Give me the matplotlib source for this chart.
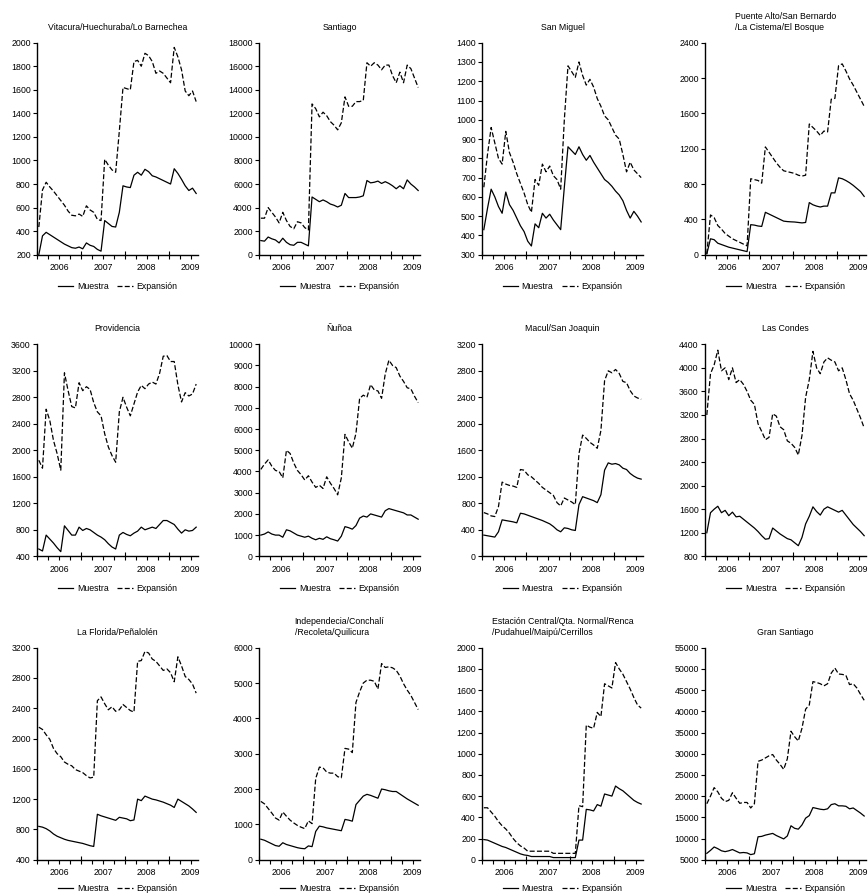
import matplotlib
matplotlib.use('Agg')
import matplotlib.pyplot as plt
import matplotlib.transforms as mtransforms

plt.rcParams['font.family'] = ['Liberation Sans', 'DejaVu Sans']

# monthly observations 2006M1 .. 2009M8, drawn at mid-month
months = [i + 0.5 for i in range(44)]
years = ['2006', '2007', '2008', '2009']

titles = ['Vitacura/Huechuraba/Lo Barnechea', 'Santiago', 'San Miguel',
          'Puente Alto/San Bernardo\n/La Cistema/El Bosque',
          'Providencia', 'Ñuñoa', 'Macul/San Joaquin', 'Las Condes',
          'La Florida/Peñalolén', 'Independecia/Conchalí\n/Recoleta/Quilicura',
          'Estación Central/Qta. Normal/Renca\n/Pudahuel/Maipú/Cerrillos',
          'Gran Santiago']

vitacura_m = [200, 360, 390, 370, 350, 330, 310, 290, 275, 260,
              255, 265, 250, 300, 280, 270, 245, 230, 490, 465,
              440, 435, 560, 785, 775, 770, 875, 900, 875, 925,
              905, 870, 860, 845, 830, 815, 800, 930, 890, 840,
              785, 745, 765, 720]
vitacura_e = [435, 750, 815, 775, 740, 700, 660, 620, 570, 535,
              530, 545, 525, 615, 580, 560, 500, 490, 1010, 960,
              920, 900, 1250, 1620, 1610, 1600, 1840, 1850, 1800, 1910,
              1890, 1840, 1740, 1760, 1740, 1700, 1660, 1960, 1880, 1770,
              1590, 1550, 1590, 1500]

santiago_m = [1200, 1150, 1500, 1350, 1250, 1000, 1400, 1050, 850, 800,
              1050, 1050, 900, 750, 4900, 4700, 4500, 4650, 4500, 4300,
              4200, 4050, 4200, 5200, 4850, 4850, 4850, 4900, 5000, 6300,
              6100, 6150, 6250, 6050, 6200, 6050, 5850, 5600, 5850, 5600,
              6350, 6000, 5750, 5450]
santiago_e = [3100, 3100, 4000, 3600, 3200, 2700, 3600, 2900, 2400, 2200,
              2800, 2700, 2300, 2100, 12800, 12400, 11700, 12100, 11800, 11300,
              11000, 10600, 11200, 13400, 12600, 12600, 13000, 13000, 13100, 16300,
              16000, 16300, 16100, 15700, 16100, 16100, 15200, 14600, 15500, 14600,
              16100, 15800, 15000, 14200]

sanmiguel_m = [430, 540, 640, 600, 550, 515, 625, 560, 530, 490,
               450, 420, 370, 345, 460, 440, 515, 490, 510, 480,
               455, 430, 650, 860, 840, 820, 860, 820, 790, 815,
               780, 750, 720, 690, 675, 655, 630, 610, 580, 530,
               490, 525, 500, 470]
sanmiguel_e = [650, 820, 960, 880, 800, 770, 940, 830, 780, 720,
               670, 620, 560, 520, 690, 660, 770, 730, 760, 710,
               690, 640, 1000, 1280, 1250, 1220, 1300, 1230, 1180, 1210,
               1170, 1110, 1070, 1020, 1000, 960, 920, 900, 820, 730,
               780, 740, 720, 700]

puente_m = [10, 180, 170, 130, 115, 100, 85, 75, 65, 55,
            45, 35, 340, 335, 325, 320, 480, 460, 440, 420,
            400, 380, 375, 372, 370, 365, 360, 365, 590, 565,
            550, 540, 550, 550, 700, 700, 870, 860, 840, 815,
            785, 750, 715, 660]
puente_e = [10, 450, 420, 330, 290, 240, 210, 180, 160, 140,
            120, 100, 860, 850, 840, 810, 1220, 1160, 1100, 1040,
            990, 950, 940, 930, 920, 900, 890, 900, 1480, 1440,
            1400, 1350, 1400, 1390, 1760, 1770, 2140, 2160, 2080, 1990,
            1920, 1840, 1760, 1680]

providencia_m = [510, 480, 720, 660, 600, 530, 470, 860, 790, 720,
                 720, 840, 790, 820, 800, 760, 720, 690, 650, 590,
                 540, 510, 720, 760, 730, 710, 750, 780, 840, 800,
                 820, 840, 820, 880, 940, 940, 910, 880, 810, 750,
                 800, 780, 790, 840]
providencia_e = [1850, 1730, 2620, 2450, 2150, 1950, 1700, 3170, 2900, 2660,
                 2640, 3020, 2900, 2960, 2920, 2720, 2580, 2520, 2250, 2050,
                 1920, 1820, 2580, 2800, 2650, 2520, 2700, 2880, 2980, 2930,
                 3000, 3030, 3000, 3160, 3420, 3430, 3340, 3340, 2990, 2730,
                 2870, 2820, 2850, 3000]

nunoa_m = [1000, 1050, 1150, 1050, 1000, 1000, 900, 1250, 1200, 1100,
           1000, 950, 900, 950, 850, 780, 850, 800, 920, 830,
           780, 720, 950, 1400, 1350, 1280, 1450, 1800, 1900, 1850,
           2000, 1950, 1900, 1850, 2150, 2250, 2200, 2150, 2100, 2050,
           1950, 1950, 1850, 1750]
nunoa_e = [4100, 4350, 4550, 4250, 4050, 4000, 3700, 5000, 4850, 4400,
           4050, 3850, 3600, 3800, 3500, 3250, 3350, 3200, 3750, 3450,
           3200, 2900, 3700, 5750, 5400, 5100, 5800, 7450, 7600, 7500,
           8100, 7850, 7800, 7450, 8600, 9250, 9000, 8900, 8500, 8250,
           7950, 7900, 7550, 7250]

macul_m = [320, 310, 300, 290, 370, 550, 540, 530, 520, 505,
           650, 640, 620, 600, 580, 560, 540, 515, 490, 450,
           400, 370, 430, 420, 400, 390, 780, 900, 880, 860,
           840, 810, 930, 1300, 1410, 1390, 1400, 1380, 1330, 1310,
           1250, 1210, 1180, 1165]
macul_e = [660, 640, 610, 600, 750, 1120, 1090, 1070, 1060, 1040,
           1310, 1300, 1230, 1200, 1150, 1100, 1040, 1000, 960, 920,
           810, 760, 880, 850, 820, 780, 1550, 1830, 1780, 1720,
           1680, 1630, 1900, 2650, 2800, 2770, 2820, 2760, 2640, 2620,
           2500, 2420, 2390, 2370]

condes_m = [1200, 1540, 1600, 1650, 1540, 1580, 1490, 1550, 1470, 1480,
            1430, 1380, 1330, 1280, 1220, 1150, 1090, 1100, 1280, 1230,
            1180, 1140, 1100, 1080, 1030, 980, 1120, 1350, 1480, 1640,
            1560, 1500, 1600, 1640, 1610, 1580, 1550, 1580, 1500, 1420,
            1340, 1280, 1220, 1150]
condes_e = [3200, 3900, 4050, 4300, 3950, 4000, 3800, 4000, 3750, 3800,
            3720, 3600, 3450, 3380, 3050, 2920, 2780, 2820, 3220, 3180,
            3000, 2950, 2760, 2720, 2650, 2520, 2850, 3500, 3800, 4280,
            4000, 3900, 4100, 4170, 4130, 4100, 3950, 4000, 3800, 3560,
            3450, 3300, 3150, 2980]

florida_m = [840, 830, 810, 780, 740, 710, 690, 670, 655, 645,
             635, 625, 615, 600, 585, 575, 1000, 980, 965, 950,
             935, 920, 960, 950, 940, 915, 925, 1200, 1180, 1240,
             1220, 1200, 1190, 1175, 1160, 1140, 1120, 1090, 1200, 1170,
             1140, 1110, 1070, 1025]
florida_e = [2150, 2120, 2050, 1990, 1870, 1800, 1760, 1690, 1660, 1640,
             1590, 1570, 1550, 1510, 1480, 1490, 2500, 2550, 2460, 2380,
             2420, 2360, 2380, 2450, 2410, 2370, 2350, 3020, 3030, 3150,
             3130, 3050, 3020, 2960, 2900, 2920, 2870, 2750, 3080, 2960,
             2820, 2780, 2720, 2600]

indep_m = [580, 550, 500, 450, 400, 380, 480, 430, 400, 370,
           340, 320, 310, 390, 370, 800, 950, 930, 900, 880,
           860, 840, 820, 1140, 1120, 1090, 1560, 1680, 1800, 1850,
           1820, 1780, 1740, 2000, 1980, 1950, 1930, 1930, 1860, 1790,
           1720, 1660, 1600, 1540]
indep_e = [1650, 1580, 1450, 1320, 1180, 1120, 1350, 1230, 1120, 1040,
           970, 920, 880, 1100, 1020, 2300, 2620, 2600, 2480, 2450,
           2450, 2350, 2320, 3150, 3130, 3030, 4450, 4750, 5000, 5080,
           5080, 5050, 4830, 5550, 5440, 5460, 5430, 5360, 5200, 4980,
           4800, 4650, 4450, 4250]

estacion_m = [190, 185, 170, 155, 140, 125, 115, 100, 85, 70,
              55, 45, 40, 30, 30, 30, 30, 30, 30, 20,
              20, 20, 20, 20, 20, 20, 185, 185, 475, 470,
              460, 520, 505, 620, 610, 600, 695, 670, 650, 620,
              590, 560, 540, 525]
estacion_e = [490, 490, 450, 410, 360, 320, 290, 250, 200, 160,
              130, 110, 80, 80, 80, 80, 80, 80, 80, 60,
              60, 60, 60, 60, 60, 60, 510, 500, 1270, 1250,
              1240, 1390, 1350, 1660, 1640, 1620, 1860, 1800, 1750, 1680,
              1610, 1530, 1460, 1430]

gran_m = [6500, 7200, 8000, 7600, 7100, 6900, 7100, 7400, 7000, 6600,
          6700, 6600, 6200, 6400, 10400, 10500, 10800, 11000, 11200, 10700,
          10300, 9900, 10600, 13000, 12400, 12200, 13200, 14800, 15400, 17300,
          17100, 16900, 16800, 17000, 18000, 18200, 17700, 17700, 17600, 17000,
          17200, 16600, 16000, 15300]
gran_e = [18200, 20000, 22000, 21000, 19500, 18700, 19000, 20800, 19500, 18300,
          18500, 18500, 17200, 18200, 28200, 28500, 29000, 29500, 29800, 28500,
          27500, 26300, 28800, 35300, 34000, 33000, 36000, 40500, 41500, 47000,
          46800, 46500, 46000, 46500, 49000, 50200, 48800, 48700, 48500, 46300,
          46500, 45500, 44000, 42600]

muestra = [vitacura_m, santiago_m, sanmiguel_m, puente_m,
           providencia_m, nunoa_m, macul_m, condes_m,
           florida_m, indep_m, estacion_m, gran_m]
expansion = [vitacura_e, santiago_e, sanmiguel_e, puente_e,
             providencia_e, nunoa_e, macul_e, condes_e,
             florida_e, indep_e, estacion_e, gran_e]
yticks = [list(range(200, 2001, 200)), list(range(0, 18001, 2000)),
          list(range(300, 1401, 100)), list(range(0, 2401, 400)),
          list(range(400, 3601, 400)), list(range(0, 10001, 1000)),
          list(range(0, 3201, 400)), list(range(800, 4401, 400)),
          list(range(400, 3201, 400)), list(range(0, 6001, 1000)),
          list(range(0, 2001, 200)), list(range(5000, 55001, 5000))]

W, H = 868, 894
fig = plt.figure(figsize=(W / 100, H / 100), dpi=100)
col_left = [37, 259, 482, 705]
row_top = [42.7, 344.3, 647.7]
legend_gap = [32, 32, 28.5]   # bottom row legend sits against the page edge
ax_w, ax_h = 161, 212
fs = 6.3

for k in range(12):
    r, c = divmod(k, 4)
    ax = fig.add_axes([col_left[c] / W, 1 - (row_top[r] + ax_h) / H, ax_w / W, ax_h / H])
    ax.plot(months, muestra[k], color='black', lw=0.9, label='Muestra')
    ax.plot(months, expansion[k], color='black', lw=0.9, ls=(0, (4, 1.8)), label='Expansión')
    ax.set_xlim(0, 44)
    ax.set_ylim(yticks[k][0], yticks[k][-1])
    ax.spines['top'].set_visible(False)
    ax.spines['right'].set_visible(False)
    ax.spines['left'].set_linewidth(1.0)
    ax.spines['bottom'].set_linewidth(1.0)
    ax.set_yticks(yticks[k])
    ax.tick_params(axis='y', direction='out', length=3, width=0.8, pad=1.5, labelsize=fs)
    ax.set_xticks([0, 12, 24, 36])
    ax.set_xticklabels([])
    ax.set_xticks(range(3, 44, 3), minor=True)
    ax.tick_params(axis='x', which='major', direction='inout', length=6, width=0.8)
    ax.tick_params(axis='x', which='minor', direction='out', length=3, width=0.8)
    trans = mtransforms.blended_transform_factory(ax.transData, ax.transAxes)
    for j, yr in enumerate(years):
        ax.text(6 + 12 * j, -12.7 / ax_h, yr, transform=trans, ha='center', va='center', fontsize=fs)
    ax.text(0.5, 1 + 11 / ax_h, titles[k], transform=ax.transAxes, ha='center', va='bottom',
            ma='left', fontsize=fs, linespacing=1.3)
    ax.legend(loc='center', bbox_to_anchor=(0.5, -legend_gap[r] / ax_h), ncol=2, frameon=False,
              fontsize=fs, handlelength=1.8, handletextpad=0.4, columnspacing=1.0)

fig.savefig('out.png', dpi=100)
